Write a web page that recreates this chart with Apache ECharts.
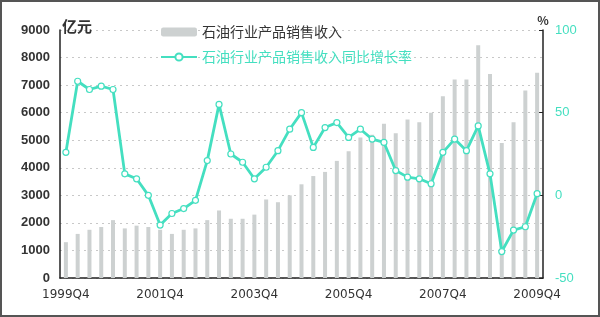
<!DOCTYPE html>
<html><head><meta charset="utf-8">
<script src="https://cdn.jsdelivr.net/npm/echarts@6/dist/echarts.min.js"></script>
<style>html,body{margin:0;padding:0;background:#fff}#c{width:600px;height:317px;box-sizing:border-box;border:2px solid #555}</style>
</head><body><div id="c"></div>
<script>
var categories = ['1999Q4',
 '2000Q1','2000Q2','2000Q3','2000Q4',
 '2001Q1','2001Q2','2001Q3','2001Q4',
 '2002Q1','2002Q2','2002Q3','2002Q4',
 '2003Q1','2003Q2','2003Q3','2003Q4',
 '2004Q1','2004Q2','2004Q3','2004Q4',
 '2005Q1','2005Q2','2005Q3','2005Q4',
 '2006Q1','2006Q2','2006Q3','2006Q4',
 '2007Q1','2007Q2','2007Q3','2007Q4',
 '2008Q1','2008Q2','2008Q3','2008Q4',
 '2009Q1','2009Q2','2009Q3','2009Q4'];
var revenue = [1300,
 1600,1750,1850,2100,
 1800,1900,1850,1750,
 1600,1750,1800,2100,
 2450,2150,2150,2300,
 2850,2750,3000,3400,
 3700,3850,4250,4600,
 5100,5200,5600,5250,
 5750,5650,6000,6600,
 7200,7200,8450,7400,
 4900,5650,6800,7450];
var growth = [26,
 69,64,66,64,
 13,10,0,-18,
 -11,-8,-3,21,
 55,25,20,10,
 17,27,40,50,
 29,41,44,35,
 40,34,32,15,
 11,10,7,26,
 34,27,42,13,
 -34,-21,-19,1];
var leftTicks = [0,1000,2000,3000,4000,5000,6000,7000,8000,9000];
var rightTicks = [-50,0,50,100];
var barName = '石油行业产品销售收入';
var lineName = '石油行业产品销售收入同比增长率';

var chart = echarts.init(document.getElementById('c'));
var lineColor = '#44dfc0';
chart.setOption({
  animation:false,
  textStyle:{fontFamily:'"Noto Sans CJK SC", "Liberation Sans", sans-serif'},
  grid:{left:58,right:55,top:28,bottom:37},
  legend:{
    orient:'vertical', left:153, top:18, itemGap:11, itemWidth:36, itemHeight:9,
    textStyle:{fontSize:14, color:'#333'},
    data:[{name:barName, itemStyle:{color:'#cdd1d1'}},
          {name:lineName, textStyle:{color:lineColor}}]
  },
  xAxis:{
    type:'category', data:categories, boundaryGap:true,
    axisLine:{lineStyle:{color:'#222',width:1.5}},
    axisTick:{inside:true, interval:1, length:4, lineStyle:{color:'#222'}},
    axisLabel:{interval:7, color:'#333', fontSize:12, margin:11, fontFamily:'"DejaVu Sans", sans-serif'},
    splitLine:{show:false}
  },
  yAxis:[{
    type:'value', min:leftTicks[0], max:leftTicks[leftTicks.length-1], interval:1000,
    name:'亿元', nameLocation:'end', nameGap:-4,
    nameTextStyle:{color:'#333', fontSize:15, fontWeight:'bold', align:'left', padding:[0,0,0,2]},
    axisLine:{show:true, lineStyle:{color:'#222',width:1.5}},
    axisTick:{show:false},
    axisLabel:{color:'#333', fontSize:13, margin:10, fontWeight:'bold', fontFamily:'"Liberation Sans", sans-serif',
      formatter:function(v){return String(v);}},
    splitLine:{show:true, lineStyle:{color:'#c8c8c8', type:[2,4], width:1}}
  },{
    type:'value', min:rightTicks[0], max:rightTicks[rightTicks.length-1], interval:50,
    name:'%', nameLocation:'end', nameGap:4,
    nameTextStyle:{color:'#333', fontSize:12, fontWeight:'bold', align:'center'},
    axisLine:{show:true, lineStyle:{color:'#222',width:1.5}},
    axisTick:{show:true, inside:true, length:4, lineStyle:{color:'#222'}},
    axisLabel:{color:lineColor, fontSize:13, margin:12, fontFamily:'"Liberation Sans", sans-serif'},
    splitLine:{show:false}
  }],
  series:[{
    name:barName, type:'bar', data:revenue, barWidth:4, yAxisIndex:0,
    itemStyle:{color:'#cdd1d1'}
  },{
    name:lineName, type:'line', data:growth, yAxisIndex:1,
    symbol:'circle', symbolSize:6,
    lineStyle:{color:lineColor, width:2.8},
    itemStyle:{color:'#fff', borderColor:lineColor, borderWidth:1.2}
  }]
});
</script></body></html>
